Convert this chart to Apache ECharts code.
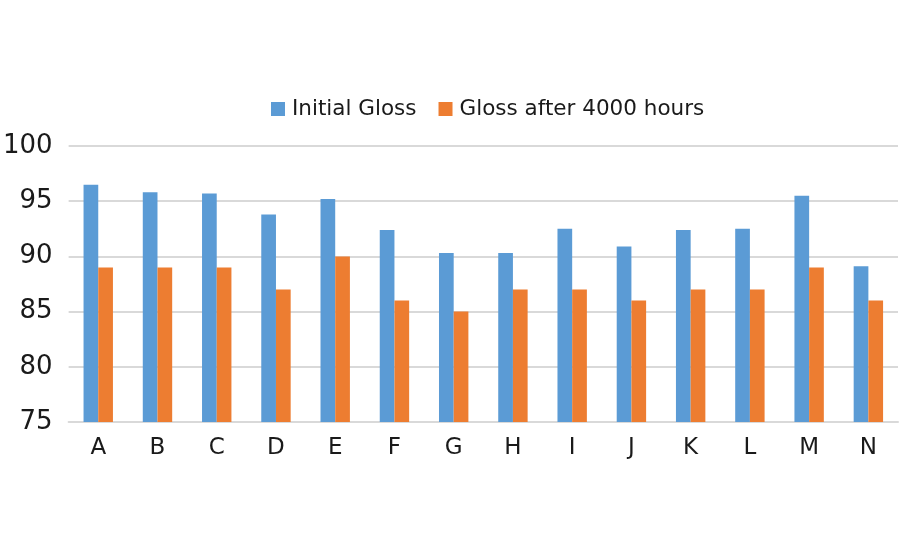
<!DOCTYPE html>
<html>
<head>
<meta charset="utf-8">
<script src="https://cdn.jsdelivr.net/npm/echarts@6/dist/echarts.min.js"></script>
<style>html,body{margin:0;padding:0;background:#fff}#c{width:900px;height:550px}</style>
</head>
<body>
<div id="c"></div>
<script>
const categories = ['A','B','C','D','E','F','G','H','I','J','K','L','M','N'];
const initialGloss = [96.5, 95.8, 95.7, 93.8, 95.2, 92.4, 90.3, 90.3, 92.5, 90.9, 92.4, 92.5, 95.5, 89.1];
const glossAfter4000 = [89, 89, 89, 87, 90, 86, 85, 87, 87, 86, 87, 87, 89, 86];
const seriesNames = ['Initial Gloss', 'Gloss after 4000 hours'];
const yTicks = { min: 75, max: 100, interval: 5 };

const chart = echarts.init(document.getElementById('c'), null, { renderer: 'canvas' });
const font = '"DejaVu Sans", sans-serif';
chart.setOption({
  animation: false,
  backgroundColor: '#ffffff',
  color: ['#5B9BD5', '#ED7D31'],
  legend: {
    data: seriesNames,
    top: 93,
    left: 266,
    itemWidth: 14,
    itemHeight: 14,
    itemGap: 22,
    icon: 'rect',
    textStyle: { fontFamily: font, fontSize: 21.5, color: '#1a1a1a', padding: [0, 0, 0, 2] }
  },
  grid: { left: 68, right: 2, top: 146, bottom: 128, containLabel: false },
  xAxis: {
    type: 'category',
    data: categories,
    axisTick: { show: false },
    axisLine: { lineStyle: { color: '#d9d9d9', width: 2 } },
    axisLabel: { fontFamily: font, fontSize: 23, color: '#1a1a1a', margin: 15 }
  },
  yAxis: {
    type: 'value',
    min: yTicks.min,
    max: yTicks.max,
    interval: yTicks.interval,
    axisLine: { show: false },
    axisTick: { show: false },
    splitLine: { lineStyle: { color: '#d9d9d9', width: 2 } },
    axisLabel: { fontFamily: font, fontSize: 26, color: '#1a1a1a', margin: 16 }
  },
  series: [
    { name: seriesNames[0], type: 'bar', data: initialGloss, barWidth: 14.7, barGap: '0%' },
    { name: seriesNames[1], type: 'bar', data: glossAfter4000, barWidth: 14.7, barGap: '0%' }
  ]
});
</script>
</body>
</html>
